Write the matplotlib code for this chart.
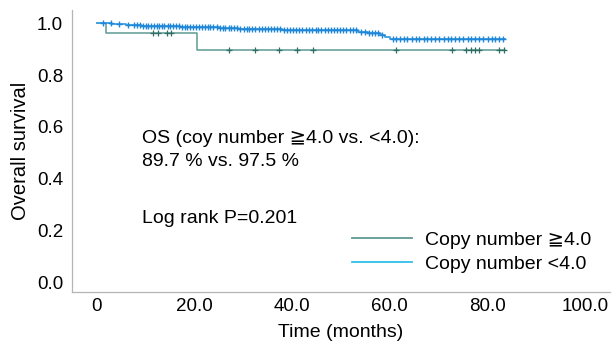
import matplotlib
matplotlib.use("Agg")
import matplotlib.pyplot as plt
import numpy as np
from matplotlib.lines import Line2D

plt.rcParams['font.family'] = ['Liberation Sans', 'DejaVu Sans']

# ---- data ----
# Copy number >=4.0 group (KM step curve)
high_times = [0, 2.0, 20.6, 83.6]
high_surv = [1.0, 0.964, 0.897, 0.897]
high_censor = [11.6, 12.6, 14.5, 15.3, 27.0, 32.4, 37.3, 41.0, 44.3, 61.2,
               72.7, 75.5, 76.5, 77.5, 78.2, 82.4, 83.3]

# Copy number <4.0 group (KM step curve)
low_times = [0, 3, 6, 9, 13, 17, 21, 25, 29, 33, 38, 43, 53.5, 55.5, 58, 59, 60, 83.5]
low_surv = [1.0, 0.997, 0.994, 0.991, 0.988, 0.986, 0.984, 0.982, 0.979, 0.977,
            0.975, 0.972, 0.967, 0.962, 0.955, 0.948, 0.940, 0.940]
low_censor = [1.4, 2.9, 4.5, 6.5, 7.6, 8.2, 8.9, 9.5, 10.1, 10.6, 11.2, 11.7, 12.3,
              12.8, 13.4, 13.9, 14.6, 15.1, 15.7, 16.2, 16.9, 17.4, 18.0, 18.6, 19.1,
              19.7, 20.3, 20.9, 21.5, 22.2, 22.8, 23.3, 23.9, 24.6, 25.2, 25.8, 26.3,
              27.0, 27.6, 28.1, 28.8, 29.4, 30.1, 30.7, 31.2, 31.9, 32.5, 33.2, 33.8,
              34.4, 35.1, 35.7, 36.3, 37.0, 37.6, 38.3, 38.9, 39.5, 40.2, 40.8, 41.5,
              42.1, 42.8, 43.5, 44.1, 44.8, 45.4, 46.0, 46.7, 47.3, 48.0, 48.6, 49.2,
              49.9, 50.5, 51.1, 51.8, 52.4, 53.0, 54.2, 54.9, 55.8, 56.4, 57.0, 57.6,
              58.3, 60.6, 61.3, 62.1, 62.9, 63.6, 64.5, 65.3, 66.0, 66.9, 67.7, 68.5,
              69.3, 70.1, 71.0, 71.8, 72.6, 73.4, 74.2, 75.0, 75.9, 76.7, 77.5, 78.3,
              79.1, 80.0, 80.8, 81.6, 82.4, 83.2]

xticks = [0, 20, 40, 60, 80, 100]
xtick_labels = ['0', '20.0', '40.0', '60.0', '80.0', '100.0']
yticks = [0.0, 0.2, 0.4, 0.6, 0.8, 1.0]
ytick_labels = ['0.0', '0.2', '0.4', '0.6', '0.8', '1.0']

high_line_c = '#5e9a92'
high_mark_c = '#2e6e64'
low_line_c = '#3b9fe2'
low_mark_c = '#1f86d8'
low_legend_c = '#2fc0ea'

FS = 14

fig = plt.figure(figsize=(6.16, 3.44), dpi=100)
ax = fig.add_axes([0.117, 0.151, 0.873, 0.820])


def surv_at(times, surv, t):
    idx = np.searchsorted(times, t, side='right') - 1
    return np.asarray(surv)[idx]


ax.step(high_times, high_surv, where='post', color=high_line_c, lw=1.1, zorder=2)
ax.step(low_times, low_surv, where='post', color=low_line_c, lw=1.3, zorder=3)
ax.plot(high_censor, surv_at(high_times, high_surv, high_censor), ls='none',
        marker='+', ms=4.5, mew=0.9, color=high_mark_c, zorder=2)
ax.plot(low_censor, surv_at(low_times, low_surv, low_censor), ls='none',
        marker='+', ms=5, mew=1.0, color=low_mark_c, zorder=4)

ax.set_xlim(-5, 105)
ax.set_ylim(-0.037, 1.051)
ax.set_xticks(xticks)
ax.set_xticklabels(xtick_labels)
ax.set_yticks(yticks)
ax.set_yticklabels(ytick_labels)
ax.tick_params(axis='x', length=0, labelsize=13.5, pad=4)
ax.tick_params(axis='y', length=0, labelsize=13.5, pad=6.5)
for s in ['top', 'right']:
    ax.spines[s].set_visible(False)
for s in ['left', 'bottom']:
    ax.spines[s].set_color('#b5b5b5')
    ax.spines[s].set_linewidth(0.9)

ax.set_xlabel('Time (months)', fontsize=FS, labelpad=7)
ax.set_ylabel('Overall survival', fontsize=14.5, labelpad=5)

ax.text(0.130, 0.505, 'OS (coy number \u22674.0 vs. <4.0):\n89.7 % vs. 97.5 %',
        transform=ax.transAxes, fontsize=FS, va='center', ha='left',
        linespacing=1.45)
ax.text(0.130, 0.262, 'Log rank P=0.201', transform=ax.transAxes,
        fontsize=FS, va='center', ha='left')

handles = [Line2D([], [], color=high_line_c, lw=1.3),
           Line2D([], [], color=low_legend_c, lw=1.3)]
leg = ax.legend(handles, ['Copy number \u22674.0', 'Copy number <4.0'],
                loc='upper left', bbox_to_anchor=(352 / 616, 1 - 231 / 344),
                bbox_transform=fig.transFigure, frameon=False, fontsize=FS,
                handlelength=3.1, handletextpad=0.65, labelspacing=0.35,
                borderpad=0, borderaxespad=0)

fig.savefig('out.png', dpi=100)
